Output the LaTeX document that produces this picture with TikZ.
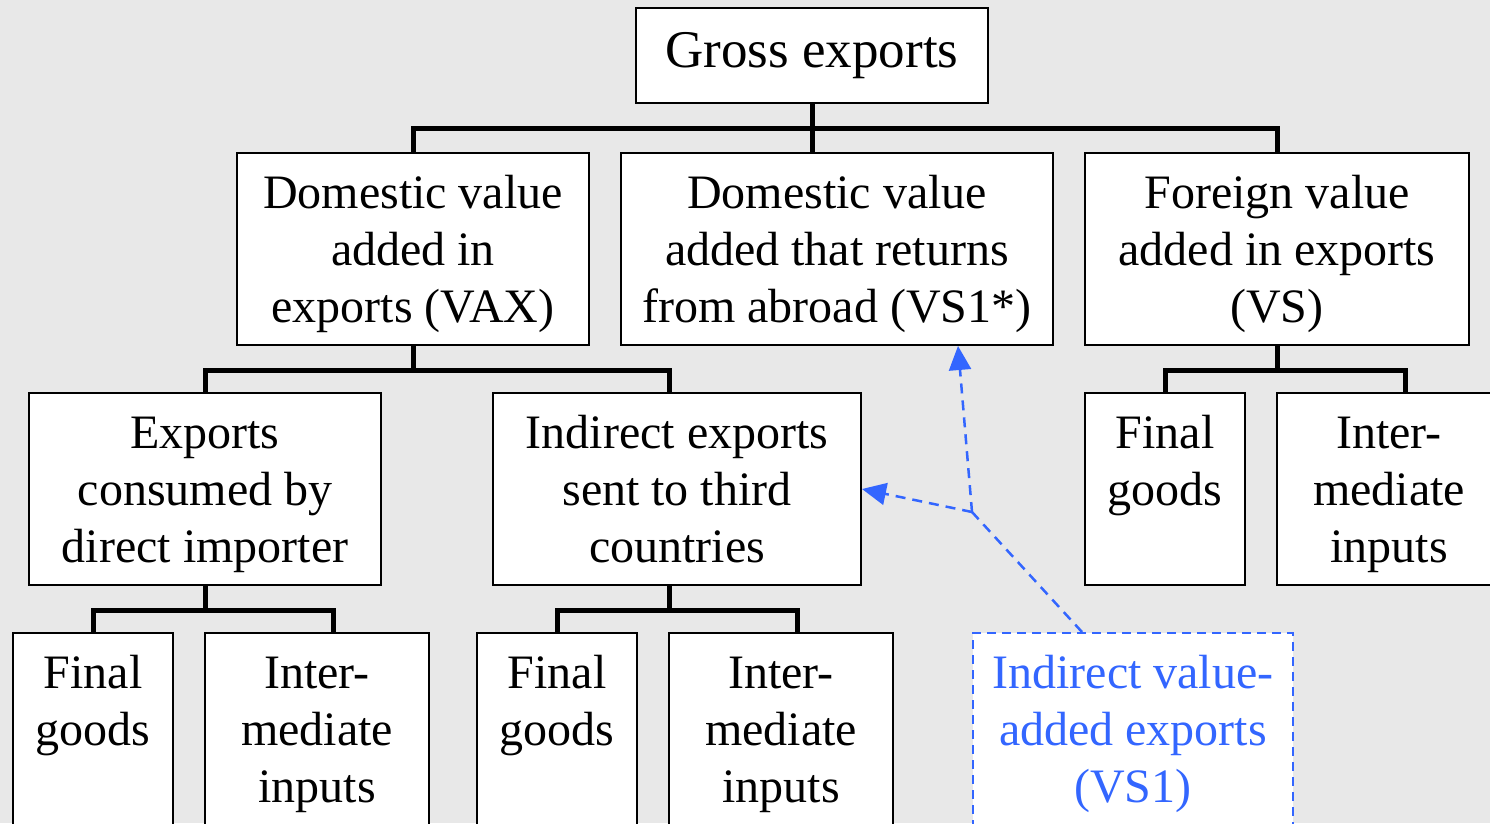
\documentclass[tikz,border=0pt]{standalone}
\usepackage{fontspec}
\setmainfont{Liberation Serif}
\usetikzlibrary{arrows.meta}
\definecolor{bggray}{RGB}{232,232,232}
\definecolor{vsblue}{RGB}{51,102,255}
\newcommand{\toptext}[3]{\parbox[c][#2][t]{#1}{\centering\vspace*{16pt}\strut#3}}

\begin{document}
\begin{tikzpicture}[x=1pt, y=-1pt]
    \tikzstyle{box} = [rectangle, draw, fill=white, line width=2pt,
        inner sep=0pt, anchor=north west, font=\fontsize{48}{57}\selectfont]
    \tikzstyle{tree} = [draw, line width=5pt]
    \tikzstyle{newbox} = [box, draw=vsblue, text=vsblue,
        dash pattern=on 9pt off 6pt]
    \tikzstyle{hint} = [draw=vsblue, line width=2.5pt,
        dash pattern=on 10pt off 7pt]

    \useasboundingbox (0,0) rectangle (1490,823);
    \fill[bggray] (0,0) rectangle (1490,823);

    % Gross exports
    \node[rectangle, draw, fill=white, line width=2pt, minimum width=352pt,
        minimum height=95pt, font=\fontsize{53}{60}\selectfont]
        (gross) at (812,55.5) {Gross exports};

    % second level
    \node[box] (vax) at (236,152) {\toptext{352pt}{192pt}{Domestic value\\
        added in\\exports (VAX)}};
    \node[box] (returns) at (620,152) {\toptext{432pt}{192pt}{Domestic value\\
        added that returns\\from abroad (VS1*)}};
    \node[box] (vs) at (1084,152) {\toptext{384pt}{192pt}{Foreign value\\
        added in exports\\(VS)}};

    % third level
    \node[box] (direct) at (28,392) {\toptext{352pt}{192pt}{Exports\\
        consumed by\\direct importer}};
    \node[box] (indirect) at (492,392) {\toptext{368pt}{192pt}{Indirect exports\\
        sent to third\\countries}};
    \node[box] (vsfinal) at (1084,392) {\toptext{160pt}{192pt}{Final\\goods}};
    \node[box] (vsinter) at (1276,392) {\toptext{224pt}{192pt}{Inter-\\
        mediate\\inputs}};

    % fourth level
    \node[box] (dirfinal) at (12,632) {\toptext{160pt}{268pt}{Final\\goods}};
    \node[box] (dirinter) at (204,632) {\toptext{224pt}{268pt}{Inter-\\
        mediate\\inputs}};
    \node[box] (indfinal) at (476,632) {\toptext{160pt}{268pt}{Final\\goods}};
    \node[box] (indinter) at (668,632) {\toptext{224pt}{268pt}{Inter-\\
        mediate\\inputs}};
    \node[newbox] (vsone) at (972,632) {\toptext{320pt}{268pt}{Indirect value-\\
        added exports\\(VS1)}};

    % tree lines
    \draw[tree] (gross.south) -- (gross.south |- returns.north);
    \draw[tree] (vax.north) -- ++(0,-24) -| (vs.north);
    \draw[tree] (vax.south) -- ++(0,24) coordinate (vaxbar);
    \draw[tree] (direct.north) |- (vaxbar) -| ([xshift=-8pt]indirect.north);
    \draw[tree] (vs.south) -- ++(0,24) coordinate (vsbar);
    \draw[tree] (vsfinal.north) |- (vsbar) -| ([xshift=16pt]vsinter.north);
    \draw[tree] (direct.south) -- ++(0,24) coordinate (dirbar);
    \draw[tree] (dirfinal.north) |- (dirbar) -| ([xshift=16pt]dirinter.north);
    \draw[tree] ([xshift=-8pt]indirect.south) -- ++(0,24) coordinate (indbar);
    \draw[tree] (indfinal.north) |- (indbar) -| ([xshift=16pt]indinter.north);

    % VS1 hints
    \coordinate (split) at (972,512);
    \draw[hint] ([xshift=110pt]vsone.north west) -- (split);
    \draw[hint, -{Triangle[length=24pt,width=22pt]}] (split) -- (indirect.east);
    \draw[hint, -{Triangle[length=24pt,width=22pt]}] (split)
        -- ([xshift=121pt]returns.south);
\end{tikzpicture}
\end{document}
